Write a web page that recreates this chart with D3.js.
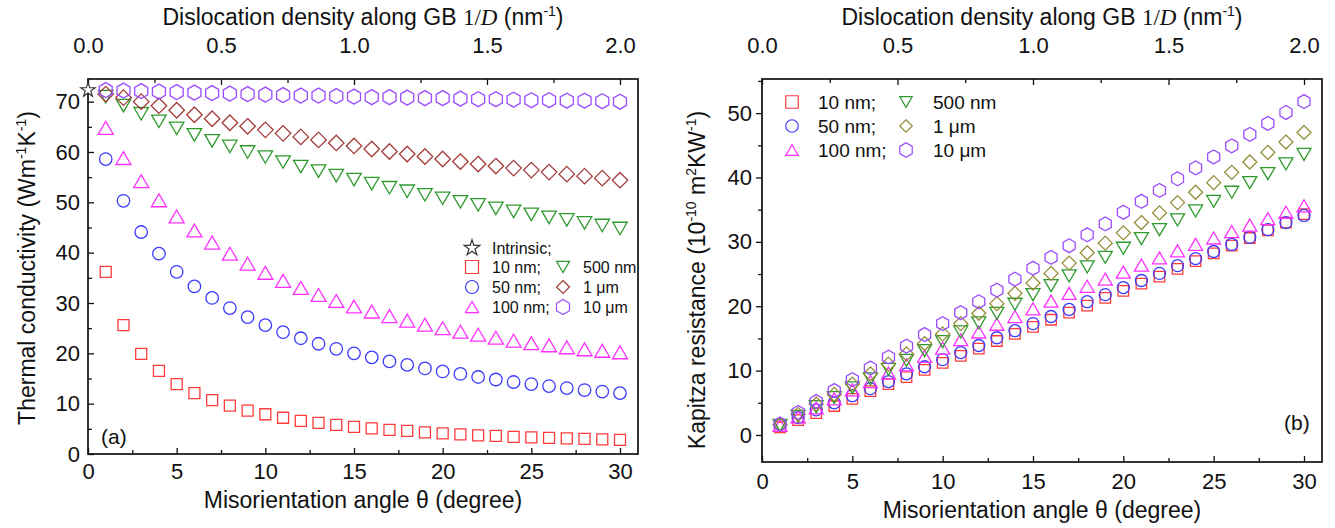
<!doctype html>
<html>
<head>
<meta charset="utf-8">
<title>Thermal conductivity and Kapitza resistance vs misorientation</title>
<script src="https://cdnjs.cloudflare.com/ajax/libs/d3/7.8.5/d3.min.js"></script>
<style>
  body { margin: 0; background: #fff; }
  svg text { font-family: "Liberation Sans", Arial, sans-serif; fill: #111; }
</style>
</head>
<body>
<div id="chart"></div>
<script>
// misorientation angle theta (degree)
const angles = [1,2,3,4,5,6,7,8,9,10,11,12,13,14,15,16,17,18,19,20,21,22,23,24,25,26,27,28,29,30];
const sizeLabels = ["10 nm;", "50 nm;", "100 nm;", "500 nm", "1 \u03bcm", "10 \u03bcm"];

// (a) thermal conductivity (W/mK)
const intrinsicK = 72.3;
const k10nm  = [36.2,25.6,19.9,16.5,13.9,12.1,10.7,9.6,8.6,7.9,7.2,6.6,6.2,5.8,5.4,5.1,4.8,4.6,4.3,4.1,3.9,3.7,3.6,3.4,3.3,3.2,3.1,3.0,2.9,2.8];
const k50nm  = [58.6,50.3,44.1,39.8,36.2,33.3,31.0,29.0,27.2,25.6,24.2,23.0,21.9,20.9,20.0,19.2,18.4,17.7,17.0,16.4,15.9,15.3,14.8,14.3,13.9,13.5,13.1,12.7,12.4,12.1];
const k100nm = [64.8,58.8,54.2,50.4,47.2,44.4,42.0,39.8,37.8,36.0,34.4,33.0,31.6,30.4,29.3,28.3,27.4,26.5,25.7,25.0,24.3,23.7,23.1,22.5,22.0,21.6,21.2,20.8,20.5,20.2];
const k500nm = [71.0,69.2,67.6,66.1,64.7,63.4,62.2,61.1,60.0,59.0,58.0,57.1,56.2,55.3,54.5,53.7,52.9,52.2,51.5,50.8,50.1,49.5,48.8,48.2,47.6,47.0,46.5,45.9,45.4,44.8];
const k1um   = [71.5,70.8,70.0,69.2,68.3,67.4,66.6,65.8,65.1,64.4,63.7,63.0,62.4,61.8,61.2,60.6,60.1,59.6,59.1,58.6,58.1,57.6,57.2,56.8,56.4,56.0,55.6,55.2,54.8,54.4];
const k10um  = [72.3,72.2,72.1,72.0,71.9,71.8,71.7,71.6,71.5,71.4,71.3,71.2,71.2,71.1,71.0,70.9,70.9,70.8,70.7,70.7,70.6,70.5,70.5,70.4,70.3,70.3,70.2,70.2,70.1,70.0];

// (b) Kapitza resistance (1e-10 m2K/W)
const r10nm  = [1.2,2.3,3.4,4.5,5.6,6.8,7.9,9.0,10.1,11.2,12.3,13.4,14.6,15.7,16.8,17.9,19.0,20.1,21.3,22.4,23.5,24.6,25.8,27.0,28.2,29.4,30.6,31.8,33.0,34.3];
const r50nm  = [1.6,2.7,3.9,5.0,6.1,7.2,8.3,9.5,10.6,11.7,12.8,13.9,15.1,16.2,17.3,18.4,19.5,20.7,21.8,22.9,24.0,25.1,26.3,27.4,28.5,29.6,30.7,31.9,33.0,34.1];
const r100nm = [1.5,2.8,4.2,5.6,7.0,8.3,9.6,10.9,12.2,13.5,14.8,16.0,17.2,18.4,19.6,20.8,22.0,23.1,24.2,25.3,26.4,27.5,28.6,29.6,30.6,31.6,32.6,33.6,34.6,35.6];
const r500nm = [1.5,2.9,4.4,5.8,7.3,8.7,10.2,11.6,13.1,14.5,16.0,17.4,18.9,20.3,21.8,23.2,24.7,26.1,27.6,29.0,30.5,31.9,33.4,34.8,36.3,37.7,39.2,40.6,42.1,43.6];
const r1um   = [1.6,3.2,4.8,6.3,7.9,9.5,11.0,12.6,14.2,15.7,17.3,18.9,20.4,22.0,23.6,25.1,26.7,28.3,29.8,31.4,33.0,34.5,36.1,37.7,39.2,40.8,42.4,43.9,45.5,47.0];
const r10um  = [1.7,3.5,5.2,6.9,8.6,10.4,12.1,13.8,15.6,17.3,19.0,20.7,22.5,24.2,25.9,27.6,29.4,31.1,32.8,34.6,36.3,38.0,39.8,41.5,43.2,44.9,46.7,48.4,50.1,51.8];

const shapes = ["square", "circle", "triangle", "down", "diamond", "hexagon"];
const colorsA = ["#ff3b3b", "#3b3bff", "#ff30ff", "#2e9a2e", "#a33a3a", "#9a4cff"];
const colorsB = ["#ff3b3b", "#3b3bff", "#ff30ff", "#2e9a2e", "#948c36", "#9a4cff"];

const svg = d3.select("#chart").append("svg")
  .attr("width", 1335).attr("height", 528);

// marker outline paths, s = nominal width in px
function markerPath(type, s) {
  const h = s / 2;
  if (type === "square") return `M${-h},${-h}H${h}V${h}H${-h}Z`;
  if (type === "circle") return `M${h},0A${h},${h} 0 1,1 ${-h},0A${h},${h} 0 1,1 ${h},0Z`;
  if (type === "triangle") { const t = s * 0.43; return `M0,${-t}L${h},${t}L${-h},${t}Z`; }
  if (type === "down") { const t = s * 0.43; return `M0,${t}L${h},${-t}L${-h},${-t}Z`; }
  if (type === "diamond") return `M0,${-h}L${h},0L0,${h}L${-h},0Z`;
  if (type === "hexagon") {
    const r = s / Math.sqrt(3);
    const pts = d3.range(6).map(i => {
      const a = Math.PI / 2 + i * Math.PI / 3;
      return [r * Math.cos(a), r * Math.sin(a)];
    });
    return "M" + pts.map(p => p.join(",")).join("L") + "Z";
  }
  if (type === "star") return d3.symbol(d3.symbolStar, s * s * 0.45)();
}

function drawPanel(o) {
  const g = svg.append("g");
  const x = d3.scaleLinear().domain([0, 30]).range([o.left, o.x30]);
  const xTop = d3.scaleLinear().domain([0, 2]).range([o.left, o.x30]);
  const y = d3.scaleLinear().domain(o.yDomain).range([o.bottom, o.top]);

  // axes (frame drawn separately)
  const tickStyle = sel => { sel.select(".domain").remove(); sel.selectAll("line").attr("stroke", "#111").attr("stroke-width", 1.3); sel.selectAll("text").attr("font-size", 22).attr("font-family", null); };

  g.append("g").attr("transform", `translate(0,${o.bottom})`)
    .call(d3.axisBottom(x).tickValues([0,5,10,15,20,25,30]).tickFormat(d3.format("d")).tickSize(-6).tickPadding(o.bottomPad))
    .call(tickStyle);
  g.append("g").attr("transform", `translate(0,${o.bottom})`)
    .call(d3.axisBottom(x).tickValues([2.5,7.5,12.5,17.5,22.5,27.5]).tickFormat("").tickSize(-4))
    .call(tickStyle);

  g.append("g").attr("transform", `translate(0,${o.top})`)
    .call(d3.axisTop(xTop).tickValues([0,0.5,1,1.5,2]).tickFormat(d3.format(".1f")).tickSize(-6).tickPadding(o.topPad))
    .call(tickStyle);
  g.append("g").attr("transform", `translate(0,${o.top})`)
    .call(d3.axisTop(xTop).tickValues([0.25,0.75,1.25,1.75]).tickFormat("").tickSize(-4))
    .call(tickStyle);

  g.append("g").attr("transform", `translate(${o.left},0)`)
    .call(d3.axisLeft(y).tickValues(o.yMajor).tickFormat(d3.format("d")).tickSize(o.yTick).tickPadding(o.leftPad))
    .call(tickStyle);
  g.append("g").attr("transform", `translate(${o.left},0)`)
    .call(d3.axisLeft(y).tickValues(o.yMinor).tickFormat("").tickSize(o.yTick * 0.65))
    .call(tickStyle);

  g.append("rect")
    .attr("x", o.left).attr("y", o.top)
    .attr("width", o.right - o.left).attr("height", o.bottom - o.top)
    .attr("fill", "none").attr("stroke", "#111").attr("stroke-width", 1.7);

  // data markers
  o.series.forEach((vals, i) => {
    g.append("g").selectAll("path")
      .data(vals)
      .join("path")
      .attr("d", markerPath(shapes[i], o.sizes[i]))
      .attr("transform", (d, j) => `translate(${x(angles[j])},${y(d)})`)
      .attr("fill", "none")
      .attr("stroke", o.colors[i])
      .attr("stroke-width", 1.3);
  });

  // axis titles
  const cx = (o.left + o.right) / 2;
  g.append("text").attr("x", cx).attr("y", o.bottomTitleY)
    .attr("text-anchor", "middle").attr("font-size", 23)
    .text("Misorientation angle \u03b8 (degree)");

  const tt = g.append("text").attr("x", cx).attr("y", 25)
    .attr("text-anchor", "middle").attr("font-size", 23);
  tt.append("tspan").text("Dislocation density along GB ");
  tt.append("tspan").attr("font-family", "Liberation Serif, serif").text("1/");
  tt.append("tspan").attr("font-family", "Liberation Serif, serif").attr("font-style", "italic").text("D");
  tt.append("tspan").text(" (nm");
  tt.append("tspan").attr("font-size", 14).attr("dy", -9).text("-1");
  tt.append("tspan").attr("dy", 9).text(")");

  const yt = g.append("text")
    .attr("transform", `translate(${o.yTitleX},${o.yTitleY}) rotate(-90)`)
    .attr("text-anchor", "middle").attr("font-size", 23);
  o.yTitle(yt);

  g.append("text").attr("x", o.tag[0]).attr("y", o.tag[1]).attr("font-size", 21).text(o.tag[2]);

  return { g, x, y };
}

const sup = (t, s) => { t.append("tspan").attr("font-size", 14).attr("dy", -9).text(s); };
const base = (t, s) => { t.append("tspan").attr("dy", 9).text(s); };

// panel (a)
const pa = drawPanel({
  left: 88, right: 638, x30: 620, top: 79, bottom: 454,
  yDomain: [0, 74.5], yMajor: [0,10,20,30,40,50,60,70], yMinor: [5,15,25,35,45,55,65],
  yTick: -6, leftPad: 8, bottomPad: 9, topPad: 26,
  series: [k10nm, k50nm, k100nm, k500nm, k1um, k10um],
  sizes: [11, 12.5, 15, 14.5, 15.5, 13],
  colors: colorsA,
  bottomTitleY: 508, yTitleX: 35, yTitleY: 268,
  tag: [101, 444, "(a)"],
  yTitle: t => {
    t.append("tspan").text("Thermal conductivity (Wm");
    sup(t, "-1"); base(t, "K"); sup(t, "-1"); base(t, ")");
  }
});

// intrinsic value at theta = 0
pa.g.append("path")
  .attr("d", markerPath("star", 12))
  .attr("transform", `translate(${pa.x(0)},${pa.y(intrinsicK)})`)
  .attr("fill", "#fff").attr("stroke", "#333").attr("stroke-width", 1.1);

// panel (b)
const pb = drawPanel({
  left: 762, right: 1322, x30: 1304, top: 79, bottom: 462,
  yDomain: [-4.2, 55.3], yMajor: [0,10,20,30,40,50], yMinor: [5,15,25,35,45,55],
  yTick: 6, leftPad: 4, bottomPad: 11, topPad: 26,
  series: [r10nm, r50nm, r100nm, r500nm, r1um, r10um],
  sizes: [10.5, 12, 14, 14, 14, 12],
  colors: colorsB,
  bottomTitleY: 518, yTitleX: 705, yTitleY: 280,
  tag: [1284, 430, "(b)"],
  yTitle: t => {
    t.append("tspan").text("Kapitza resistance (10");
    sup(t, "-10"); base(t, " m"); sup(t, "2"); base(t, "KW"); sup(t, "-1"); base(t, ")");
  }
});

// legends
function legend(g, items, fs) {
  items.forEach(it => {
    g.append("path").attr("d", markerPath(it.shape, it.size))
      .attr("transform", `translate(${it.mx},${it.y})`)
      .attr("fill", it.shape === "star" ? "#fff" : "none")
      .attr("stroke", it.color).attr("stroke-width", 1.2);
    g.append("text").attr("x", it.tx).attr("y", it.y).attr("dy", "0.36em")
      .attr("font-size", fs).text(it.label);
  });
}

const legA = [{ shape: "star", size: 13, color: "#333", mx: 472, tx: 492, y: 248, label: "Intrinsic;" }];
sizeLabels.forEach((lab, i) => {
  const col = i < 3 ? 0 : 1;
  legA.push({ shape: shapes[i], size: 13, color: colorsA[i], mx: col ? 563 : 472, tx: col ? 583 : 492, y: 267 + (i % 3) * 20, label: lab });
});
legend(pa.g, legA, 16);

const legB = sizeLabels.map((lab, i) => {
  const col = i < 3 ? 0 : 1;
  return { shape: shapes[i], size: 12.5, color: colorsB[i], mx: col ? 906 : 792, tx: col ? 933 : 818, y: 102 + (i % 3) * 24, label: lab };
});
legend(pb.g, legB, 19);
</script>
</body>
</html>
